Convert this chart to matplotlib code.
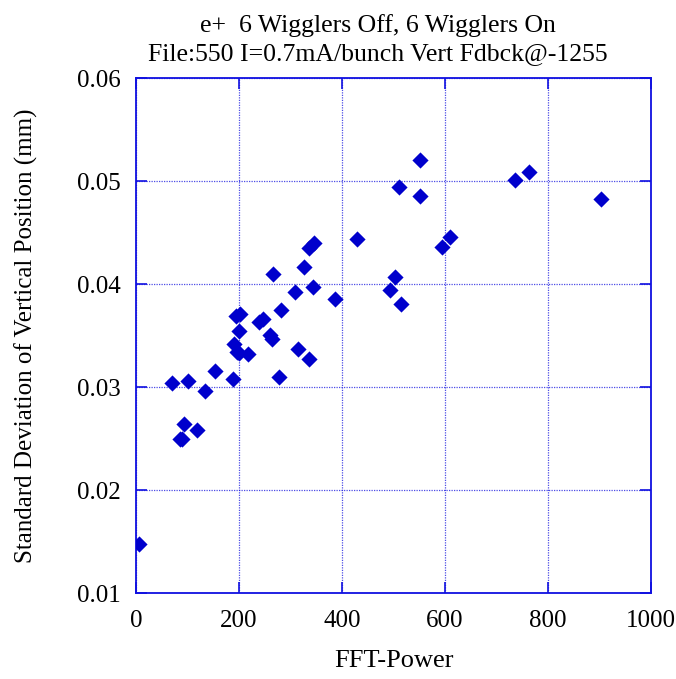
import matplotlib
matplotlib.use("Agg")
import matplotlib.pyplot as plt

# FFT power vs. std. dev. of vertical position
fft_power = [5, 69, 85, 89, 94, 100, 119, 133, 153, 189, 190, 194, 197, 200, 200, 202,
             217, 238, 247, 260, 264, 266, 278, 281, 308, 314, 327, 335, 336, 344, 345,
             386, 430, 493, 502, 510, 514, 552, 552, 594, 610, 735, 764, 902]
sigma_y = [0.0148, 0.0304, 0.0250, 0.0250, 0.0264, 0.0306, 0.0259, 0.0296, 0.0316, 0.0308,
           0.0342, 0.0369, 0.0334, 0.0333, 0.0355, 0.0371, 0.0332, 0.0363, 0.0366, 0.0351,
           0.0347, 0.0410, 0.0310, 0.0375, 0.0393, 0.0337, 0.0417, 0.0435, 0.0327, 0.0397,
           0.0440, 0.0386, 0.0444, 0.0394, 0.0407, 0.0494, 0.0381, 0.0521, 0.0486, 0.0436,
           0.0446, 0.0501, 0.0509, 0.0483]

blue = "#0000cc"
plt.rcParams['font.family'] = ['Liberation Serif', 'DejaVu Serif']

fig = plt.figure(figsize=(6.76, 6.79), dpi=100)
ax = fig.add_axes([0.2012, 0.1262, 0.7618, 0.7585])

ax.scatter(fft_power, sigma_y, marker='D', s=68, color=blue, linewidths=0, zorder=3)

ax.set_xlim(0, 1000)
ax.set_ylim(0.01, 0.06)
ax.set_xticks([0, 200, 400, 600, 800, 1000])
ax.set_yticks([0.01, 0.02, 0.03, 0.04, 0.05, 0.06])
ax.set_yticklabels(['0.01', '0.02', '0.03', '0.04', '0.05', '0.06'])

ax.grid(True, color="#2020e0", linestyle=(0, (1, 1)), linewidth=0.9, alpha=0.8)
for s in ax.spines.values():
    s.set_color("#1010e0")
    s.set_linewidth(1.3)
ax.tick_params(direction='in', length=8, width=1.2, color="#1010e0", labelsize=18,
               top=True, right=True)
ax.tick_params(axis='x', pad=12)
ax.tick_params(axis='y', pad=11)

ax.set_xlabel('FFT-Power', fontsize=19, labelpad=13)
ax.set_ylabel('Standard Deviation of Vertical Position (mm)', fontsize=18, labelpad=28)
ax.set_title('e+  6 Wigglers Off, 6 Wigglers On\nFile:550 I=0.7mA/bunch Vert Fdbck@-1255',
             fontsize=18.5, x=0.47, pad=13.5, linespacing=1.35)

fig.savefig('out.png', dpi=100)
